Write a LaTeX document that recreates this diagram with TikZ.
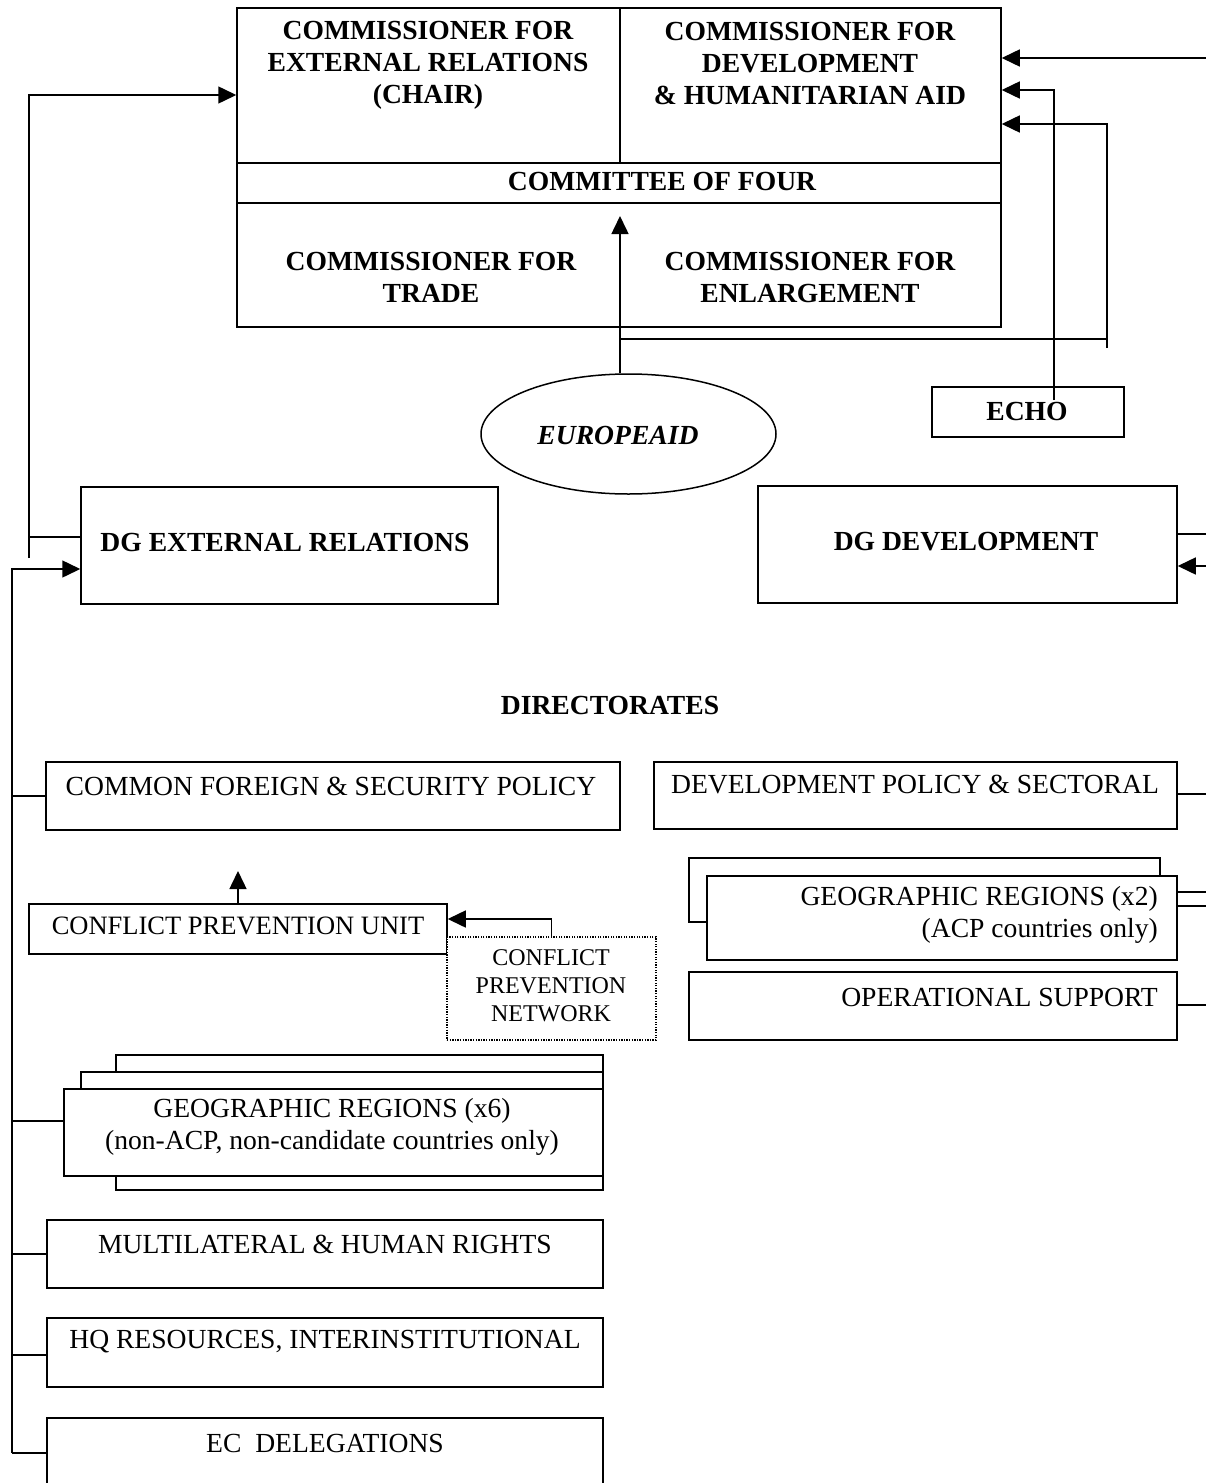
\documentclass[tikz,border=0pt]{standalone}
\usepackage{fontspec}
\setmainfont{Liberation Serif}
\usetikzlibrary{arrows.meta,fit,shapes.geometric}
\begin{document}
\begin{tikzpicture}[x=1pt,y=-1pt,
  ln/.style={line width=1.5pt},
  arr/.style={ln,-{Triangle[length=18pt,width=17pt]}},
  box/.style={draw,ln,rectangle,inner sep=0pt,fill=white},
  dotbox/.style={draw,line width=1.2pt,dash pattern=on 1.3pt off 1.3pt,rectangle,inner sep=0pt,fill=white},
  txt/.style={font=\fontsize{27.6}{32}\selectfont,align=center,inner sep=0pt},
  stxt/.style={font=\fontsize{24}{28}\selectfont,align=center,inner sep=0pt},
  btxt/.style={font=\fontsize{27.6}{32}\selectfont\bfseries,align=center,inner sep=0pt},
]
\useasboundingbox (0,0) rectangle (1206,1483);

% ---------- Committee of four ----------
\node[box,fit={(237,8) (1001,327)}] (cof) {};
\draw[ln] (cof.west |- 0,163) -- (cof.east |- 0,163);
\draw[ln] (cof.west |- 0,203) -- (cof.east |- 0,203);
\draw[ln] (620,8) -- (620,163);
\node[btxt] (ext) at (428,65) {COMMISSIONER FOR\\EXTERNAL RELATIONS\\(CHAIR)};
\node[btxt] (devc) at (810,63) {COMMISSIONER FOR\\DEVELOPMENT\\\& HUMANITARIAN AID};
\node[btxt] (four) at (662,181) {COMMITTEE OF FOUR};
\node[btxt] (trade) at (431,277) {COMMISSIONER FOR\\TRADE};
\node[btxt] (enl) at (810,277) {COMMISSIONER FOR\\ENLARGEMENT};

% ---------- EuropeAid / ECHO ----------
\node[draw,ln,ellipse,minimum width=295pt,minimum height=120pt,inner sep=0pt] (eur) at (628.5,434) {};
\node[font=\fontsize{27.6}{32}\selectfont\bfseries\itshape,inner sep=0pt] (eurt) at (618,435) {EUROPEAID};
\node[box,fit={(932,387) (1124,437)}] (echo) {};
\node[btxt] (echot) at (1027,411) {ECHO};

% ---------- DGs ----------
\node[box,fit={(81,487) (498,604)}] (dgext) {};
\node[btxt] (dgextt) at (285,542) {DG EXTERNAL RELATIONS};
\node[box,fit={(758,486) (1177,603)}] (dgdev) {};
\node[btxt] (dgdevt) at (966,542) {DG DEVELOPMENT};

\node[btxt] (dirs) at (610,705) {DIRECTORATES};

% ---------- left directorates ----------
\node[box,fit={(46,762) (620,830)}] (cfsp) {};
\node[txt] (cfspt) at (331,786) {COMMON FOREIGN \& SECURITY POLICY};

\node[box,fit={(29,904) (447,954)}] (cpu) {};
\node[font=\fontsize{26.5}{30}\selectfont,inner sep=0pt] (cput) at (238,926) {CONFLICT PREVENTION UNIT};
\node[dotbox,fit={(447,937) (656,1040)}] (net) {};
\node[stxt] (nett) at (551,986) {CONFLICT\\PREVENTION\\NETWORK};

\node[box,fit={(116,1055) (603,1190)}] (geo6c) {};
\node[box,fit={(81,1072) (603,1176)}] (geo6b) {};
\node[box,fit={(64,1089) (603,1176)}] (geo6) {};
\node[txt] (geo6t) at (332,1127) {GEOGRAPHIC REGIONS (x6)\\(non-ACP, non-candidate countries only)};

\node[box,fit={(47,1220) (603,1288)}] (multi) {};
\node[txt] (multit) at (325,1244) {MULTILATERAL \& HUMAN RIGHTS};
\node[box,fit={(47,1318) (603,1387)}] (hq) {};
\node[txt] (hqt) at (325,1342) {HQ RESOURCES, INTERINSTITUTIONAL};
\node[box,fit={(47,1418) (603,1495)}] (ec) {};
\node[txt] (ect) at (325,1443) {EC\ \ DELEGATIONS};

% ---------- right directorates ----------
\node[box,fit={(654,762) (1177,829)}] (devpol) {};
\node[txt] (devpolt) at (915,785) {DEVELOPMENT POLICY \& SECTORAL};
\node[box,fit={(689,858) (1160,922)}] (geo2b) {};
\node[box,fit={(707,876) (1177,960)}] (geo2) {};
\node[txt,align=right,anchor=east] (geo2t) at (1158,915) {GEOGRAPHIC REGIONS (x2)\\(ACP countries only)};
\node[box,fit={(689,972) (1177,1040)}] (ops) {};
\node[txt,anchor=east] (opst) at (1158,997) {OPERATIONAL SUPPORT};

% ---------- connectors: top ----------
\coordinate (rA) at (1206,58);
\draw[arr] (rA) -- (rA -| cof.east);
\coordinate (echoUp) at (1054,400);
\draw[arr] (echoUp) |- (cof.east |- 0,90);
\coordinate (eurTip) at (620,216);
\draw[arr] (eurTip |- eur.north) -- (eurTip);
\coordinate (jA) at (620,339);
\coordinate (jB) at (1107,339);
\coordinate (jC) at (1107,348);
\draw[ln] (jA) -- (jB);
\draw[arr] (jC) |- (cof.east |- 0,124);

% ---------- connectors: left ----------
\coordinate (lA) at (29,558);
\draw[arr] (lA) |- (cof.west |- 0,95);
\draw[ln] (dgext.west |- 0,537) -- (29,537);
\coordinate (bus) at (12,1453);
\draw[arr] (bus) |- (dgext.west |- 0,569);
\foreach \n/\y in {cfsp/796, geo6/1121, multi/1254, hq/1355, ec/1453}
  \draw[ln] (12,\y) -- (\n.west |- 0,\y);

\coordinate (cpuTip) at (238,871);
\draw[arr] (cpu.north) -- (cpuTip);
\draw[arr] (net.north) |- (cpu.east |- 0,919);

% ---------- connectors: right ----------
\draw[ln] (dgdev.east |- 0,534) -- (1206,534);
\draw[arr] (1206,566) -- (dgdev.east |- 0,566);
\draw[ln] (devpol.east |- 0,794) -- (1206,794);
\draw[ln] (geo2.east |- 0,892) -- (1206,892);
\draw[ln] (geo2.east |- 0,906) -- (1206,906);
\draw[ln] (ops.east |- 0,1005) -- (1206,1005);
\end{tikzpicture}
\end{document}
